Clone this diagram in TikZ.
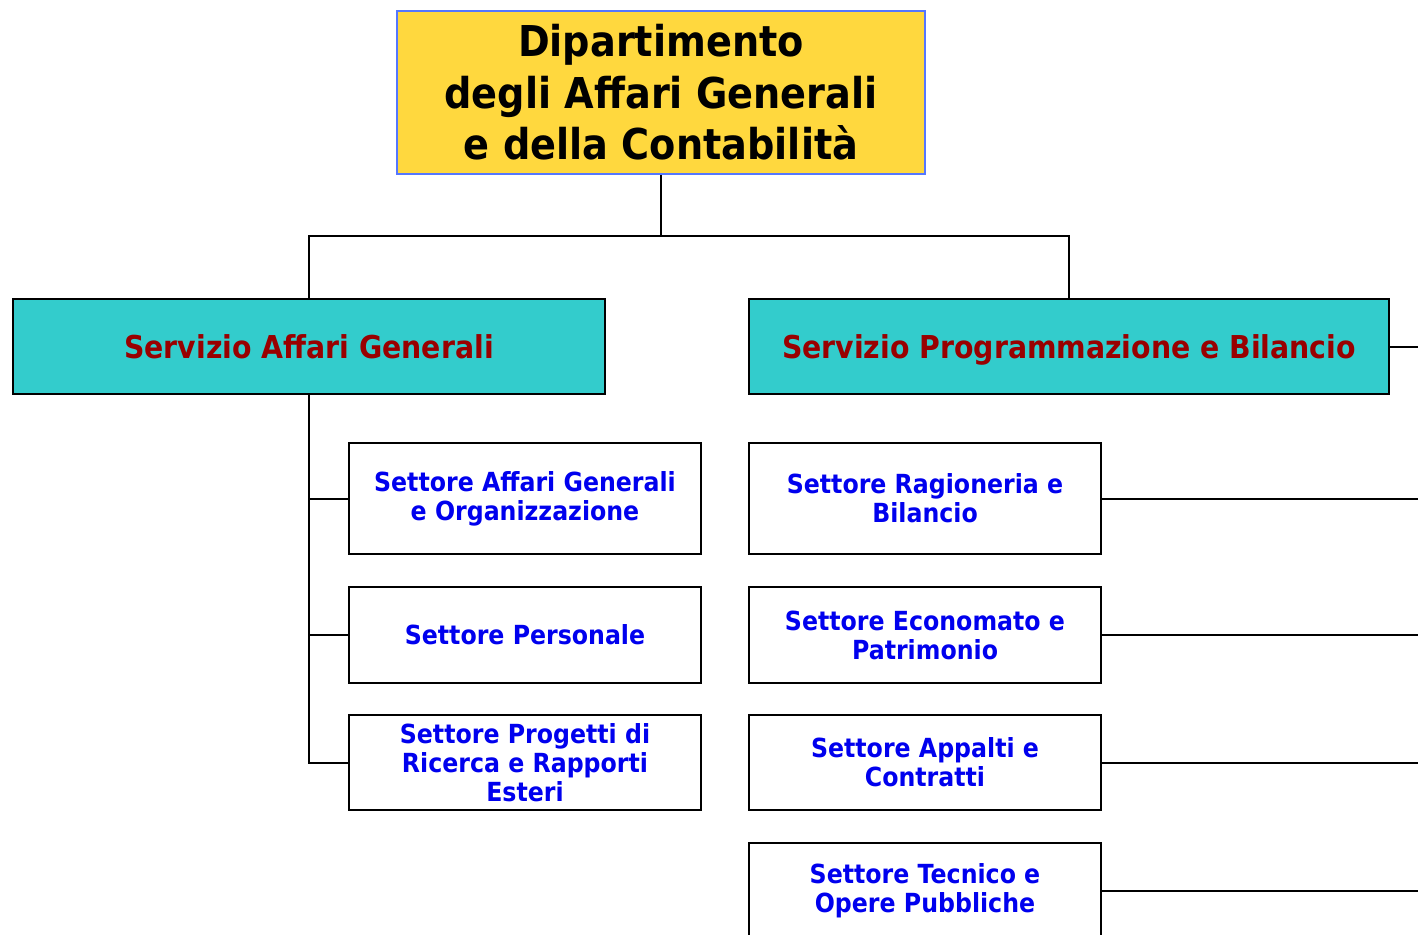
\documentclass[tikz,border=0pt]{standalone}
\usepackage{fontspec}
\setmainfont[FakeStretch=0.9]{DejaVu Sans}
\definecolor{titlefill}{HTML}{FFD83E}
\definecolor{titleborder}{HTML}{5577FF}
\definecolor{teal}{HTML}{33CCCC}
\definecolor{darkred}{HTML}{990000}
\definecolor{setblue}{HTML}{0000EE}
\tikzset{
  titlebox/.style={draw=titleborder, fill=titlefill, line width=1.6pt, inner sep=0pt, align=center,
    font=\fontsize{42.5}{51.5}\selectfont\bfseries, text=black},
  servbox/.style={draw=black, fill=teal, line width=2pt, inner sep=0pt, align=center,
    font=\fontsize{31.5}{34}\selectfont\bfseries, text=darkred, minimum height=95pt,
    text height=24pt, text depth=0pt},
  setbox/.style={draw=black, fill=white, line width=2pt, inner sep=0pt, align=center,
    font=\fontsize{26.3}{29}\selectfont\bfseries, text=setblue, minimum width=352pt},
  conn/.style={draw=black, line width=2pt}
}
\begin{document}
\begin{tikzpicture}[x=1pt,y=-1pt]
\useasboundingbox (0,0) rectangle (1418,934);
\node[titlebox, minimum width=528pt, minimum height=163pt] (dip) at (661,92.5)
  {Dipartimento\\degli Affari Generali\\e della Contabilità};
\node[servbox, minimum width=592pt] (sag) at (309,346.5) {Servizio Affari Generali};
\node[servbox, minimum width=640pt] (spb) at (1069,346.5) {Servizio Programmazione e Bilancio};
\node[setbox, minimum height=111pt] (s1) at (525,498.5) {Settore Affari Generali\\e Organizzazione};
\node[setbox, minimum height=96pt] (s2) at (525,635) {Settore Personale};
\node[setbox, minimum height=95pt] (s3) at (525,762.5) {Settore Progetti di\\Ricerca e Rapporti\\Esteri};
\node[setbox, minimum height=111pt] (r1) at (925,498.5) {Settore Ragioneria e\\Bilancio};
\node[setbox, minimum height=96pt] (r2) at (925,635) {Settore Economato e\\Patrimonio};
\node[setbox, minimum height=95pt] (r3) at (925,762.5) {Settore Appalti e\\Contratti};
\node[setbox, minimum height=95pt] (r4) at (925,890.5) {Settore Tecnico e\\Opere Pubbliche};
\coordinate (top) at (661,236);
\coordinate (e0) at (1420,346.5);
\coordinate (e1) at (1420,498.5);
\coordinate (e2) at (1420,635);
\coordinate (e3) at (1420,762.5);
\coordinate (e4) at (1420,890.5);
\draw[conn] (dip.south) -- (top);
\draw[conn] (top) -| (sag.north);
\draw[conn] (top) -| (spb.north);
\draw[conn] (sag.south) |- (s3.west);
\draw[conn] (sag.south |- s1.west) -- (s1.west);
\draw[conn] (sag.south |- s2.west) -- (s2.west);
\draw[conn] (spb.east) -- (e0);
\draw[conn] (r1.east) -- (e1);
\draw[conn] (r2.east) -- (e2);
\draw[conn] (r3.east) -- (e3);
\draw[conn] (r4.east) -- (e4);
\end{tikzpicture}
\end{document}
